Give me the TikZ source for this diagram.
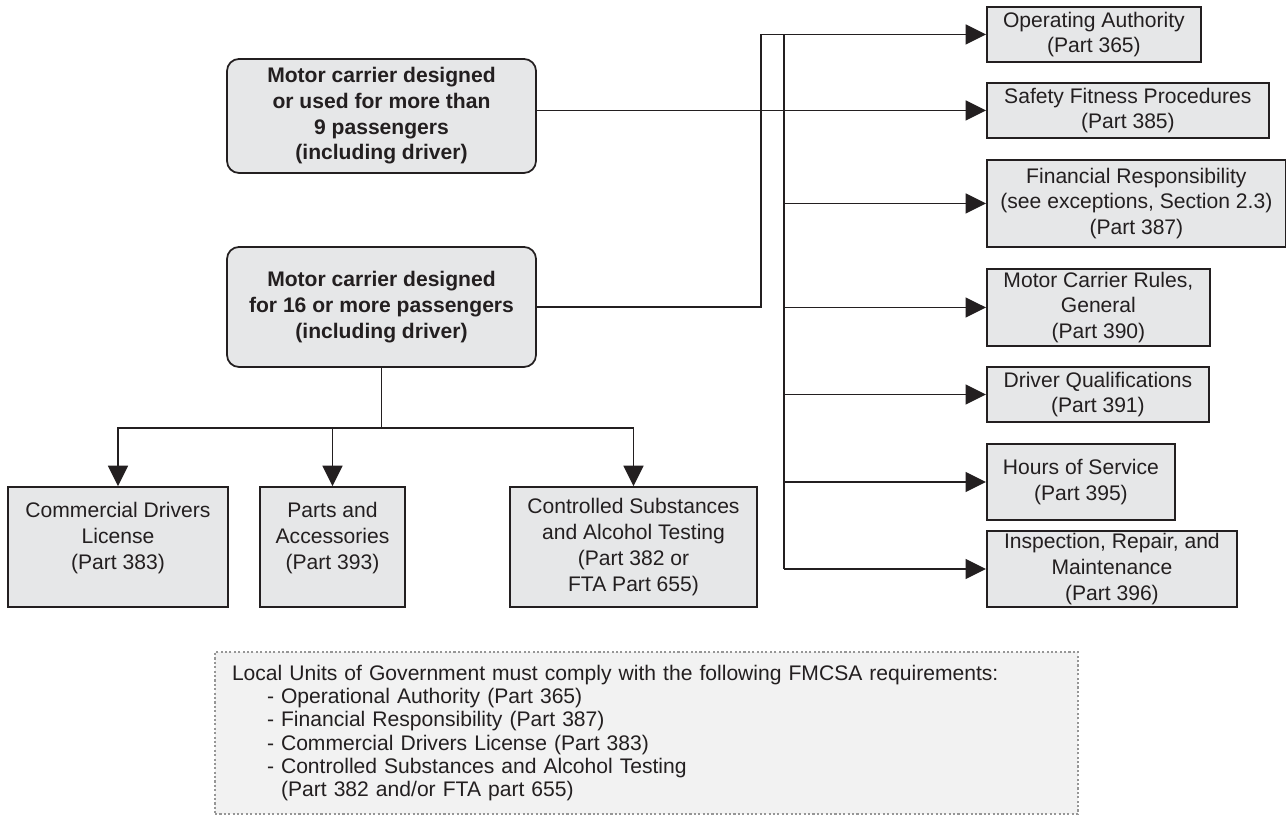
\documentclass[tikz,border=0pt]{standalone}
\usepackage{fontspec}
\setmainfont{Liberation Sans}
\usetikzlibrary{arrows.meta,calc}
\definecolor{ink}{RGB}{35,31,32}
\definecolor{boxgray}{RGB}{230,231,232}
\definecolor{notegray}{RGB}{242,242,242}
\definecolor{dotgray}{RGB}{150,150,150}

\begin{document}
\begin{tikzpicture}

\tikzstyle{rule} = [draw=ink, line width=1pt, fill=boxgray, text=ink,
    inner sep=0, align=center, anchor=west,
    font=\fontsize{12}{14.7}\selectfont]
\tikzstyle{carrier} = [draw=ink, line width=1pt, fill=boxgray, text=ink,
    rounded corners=0.24cm, minimum width=6.18cm, inner sep=0, align=center,
    font=\fontsize{12}{14.6}\selectfont\bfseries]
\tikzstyle{part} = [draw=ink, line width=1pt, fill=boxgray, text=ink,
    minimum height=2.4cm, inner sep=0, align=center,
    font=\fontsize{12}{14.7}\selectfont]
\tikzstyle{note} = [draw=dotgray, line width=1.2pt, dash pattern=on 1.2pt off 1.3pt,
    fill=notegray, text=ink, minimum height=3.24cm, inner xsep=0.34cm,
    text width=16.58cm, align=left, font=\fontsize{12}{13.2}\selectfont]
\tikzstyle{wire} = [draw=ink, line width=1pt]
\tikzstyle{pointer} = [wire, -{Triangle[length=0.41cm,width=0.40cm]}]

\fill[white] (0,0) rectangle (25.72,16.32);
\useasboundingbox (0,0) rectangle (25.72,16.32);

% =========================
% carriers - left
% =========================
\node[carrier, minimum height=2.28cm] (nine) at (7.63,14.00)
    {Motor carrier designed\\ or used for more than\\ 9 passengers\\ (including driver)};
\node[carrier, minimum height=2.40cm] (sixteen) at (7.63,10.18)
    {Motor carrier designed\\ for 16 or more passengers\\ (including driver)};

% =========================
% FMCSA parts - right column
% =========================
\node[rule, minimum width=4.28cm, minimum height=1.10cm] (oa) at (19.72,15.63)
    {Operating Authority\\ (Part 365)};
\node[rule, minimum width=5.64cm, minimum height=1.10cm] (safety) at (19.72,14.11)
    {Safety Fitness Procedures\\ (Part 385)};
\node[rule, minimum width=5.98cm, minimum height=1.74cm] (fin) at (19.72,12.25)
    {Financial Responsibility\\ (see exceptions, Section 2.3)\\ (Part 387)};
\node[rule, minimum width=4.46cm, minimum height=1.54cm] (mcr) at (19.72,10.17)
    {Motor Carrier Rules,\\ General\\ (Part 390)};
\node[rule, minimum width=4.44cm, minimum height=1.10cm] (dq) at (19.72,8.43)
    {Driver Qualifications\\ (Part 391)};
\node[rule, minimum width=3.76cm, minimum height=1.52cm] (hos) at (19.72,6.68)
    {Hours of Service\\ (Part 395)};
\node[rule, minimum width=5.00cm, minimum height=1.52cm] (insp) at (19.72,4.94)
    {Inspection, Repair, and\\ Maintenance\\ (Part 396)};

% =========================
% FMCSA parts - bottom row
% =========================
\node[part, minimum width=4.40cm, text depth=0.45cm] (cdl) at (2.36,5.38)
    {Commercial Drivers\\ License\\ (Part 383)};
\node[part, minimum width=2.90cm, text depth=0.45cm] (parts) at (6.65,5.38)
    {Parts and\\ Accessories\\ (Part 393)};
\node[part, minimum width=4.94cm] (drug) at (12.67,5.38)
    {Controlled Substances\\ and Alcohol Testing\\ (Part 382 or\\ FTA Part 655)};

% local units note
\node[note] (local) at (12.93,1.66)
    {Local Units of Government must comply with the following FMCSA requirements:\\
    \hspace*{0.7cm}- Operational Authority (Part 365)\\
    \hspace*{0.7cm}- Financial Responsibility (Part 387)\\
    \hspace*{0.7cm}- Commercial Drivers License (Part 383)\\
    \hspace*{0.7cm}- Controlled Substances and Alcohol Testing\\
    \hspace*{0.7cm}\phantom{- }(Part 382 and/or FTA part 655)};

% =========================
% connectors
% =========================
\coordinate (turn) at (15.22,15.63);
\coordinate (bus) at (15.68,15.63);
\coordinate (split) at (7.63,7.76);

\draw[pointer] (nine.east |- safety.west) -- (safety.west);
\draw[pointer] (sixteen.east) -| (turn) -- (oa.west);
\draw[wire] (bus) -- (bus |- insp.west);
\foreach \n in {fin,mcr,dq,hos,insp}
    \draw[pointer] (bus |- \n.west) -- (\n.west);

\draw[wire] (sixteen.south) -- (split);
\foreach \n in {cdl,parts,drug}
    \draw[pointer] (split) -| (\n.north);

\end{tikzpicture}
\end{document}
